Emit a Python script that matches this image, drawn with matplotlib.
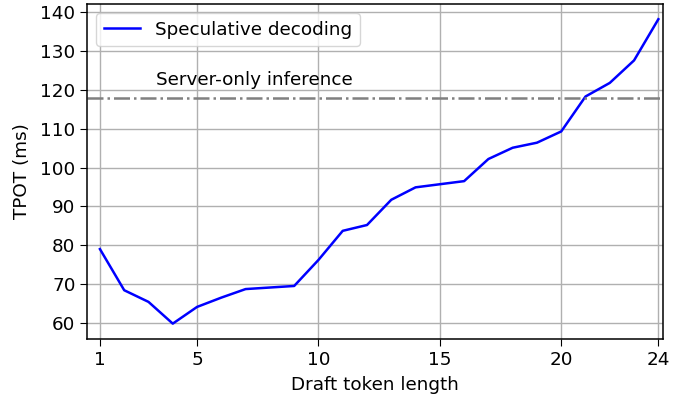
import numpy as np
import matplotlib
matplotlib.use("Agg")
import matplotlib.pyplot as plt

# draft token length vs time per output token
draft_len = list(range(1, 25))
tpot = [79.0, 68.4, 65.4, 59.8, 64.1, 66.5, 68.7, 69.1, 69.5, 76.2, 83.7, 85.2,
        91.7, 94.9, 95.7, 96.5, 102.2, 105.1, 106.4, 109.3, 118.3, 121.8, 127.6, 138.2]
server_only = 118.0
xticks = [1, 5, 10, 15, 20, 24]

plt.rcParams['font.size'] = 13.2
plt.rcParams['axes.linewidth'] = 1.1
plt.rcParams['xtick.major.size'] = 5
plt.rcParams['ytick.major.size'] = 5

fig, ax = plt.subplots(figsize=(6.93, 4.01), dpi=100)
fig.subplots_adjust(left=0.126, right=0.957, top=0.99, bottom=0.155)

ax.plot(draft_len, tpot, color='blue', lw=1.8, label='Speculative decoding')
ax.axhline(server_only, color='gray', ls='-.', lw=1.8)
ax.text(3.3, server_only + 2.3, 'Server-only inference', va='bottom')

ax.set_xticks(xticks)
ax.set_xlim(0.48, 24.2)
ax.set_xlabel('Draft token length', labelpad=5)
ax.set_ylabel('TPOT (ms)', labelpad=7)
ax.grid(True, color='#b0b0b0', lw=1)
ax.legend(loc='upper left')

fig.savefig('out.png', dpi=100)
